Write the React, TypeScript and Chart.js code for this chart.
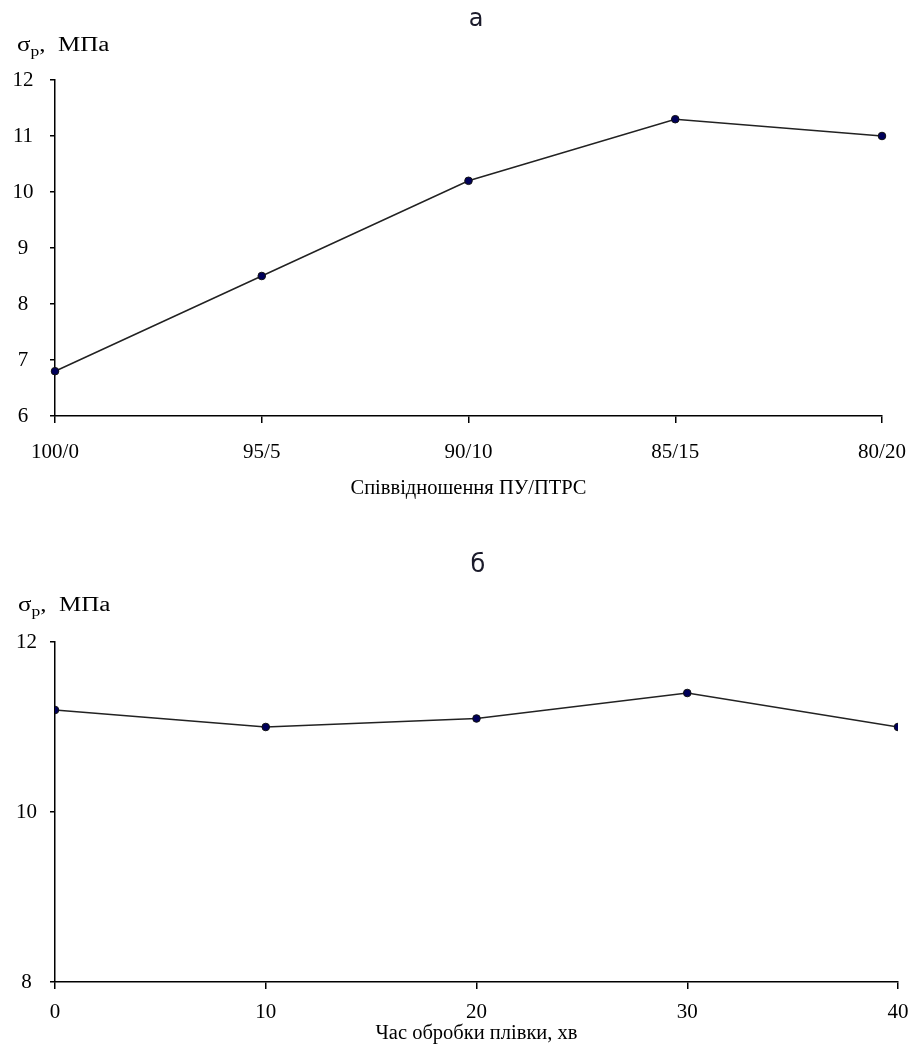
import React, { useEffect, useRef } from "react";
import { Chart, registerables } from "chart.js";

Chart.register(...registerables);

const ratioLabels = ["100/0", "95/5", "90/10", "85/15", "80/20"];
const ratioValues = [6.8, 8.5, 10.2, 11.3, 11.0];

const timeValuesX = [0, 10, 20, 30, 40];
const timeValues = [11.2, 11.0, 11.1, 11.4, 11.0];

const topTitle = "а";
const bottomTitle = "б";
const topXTitle = "Співвідношення ПУ/ПТРС";
const bottomXTitle = "Час обробки плівки, хв";

const SERIF = "'Liberation Serif', 'Times New Roman', serif";
const tickFont = { family: SERIF, size: 21 };
const titleFont = { family: SERIF, size: 20.5 };

function axisCommon(tickLength: number) {
  return {
    grid: {
      display: true,
      drawOnChartArea: false,
      drawTicks: true,
      tickLength,
      color: "#000",
      lineWidth: 1.5,
    },
    border: { display: true, color: "#000", width: 1.5 },
  };
}

const datasetStyle = {
  borderColor: "#222",
  borderWidth: 1.5,
  pointRadius: 3.8,
  pointHoverRadius: 3.8,
  pointBackgroundColor: "#00005a",
  pointBorderColor: "#111",
  pointBorderWidth: 1,
  tension: 0,
  fill: false,
};

function fixX(height: number) {
  return (s: any) => {
    s.height = height;
    s.paddingLeft = 0;
    s.paddingRight = 0;
  };
}

export default function App() {
  const topRef = useRef<HTMLCanvasElement | null>(null);
  const botRef = useRef<HTMLCanvasElement | null>(null);

  useEffect(() => {
    const c1 = new Chart(topRef.current!, {
      type: "line",
      data: {
        labels: ratioLabels,
        datasets: [{ data: ratioValues, ...datasetStyle }],
      },
      options: {
        animation: false,
        responsive: false,
        maintainAspectRatio: false,
        layout: { padding: { top: 80, right: 29, left: 0, bottom: 0 } },
        plugins: { legend: { display: false }, tooltip: { enabled: false }, title: { display: false } },
        scales: {
          x: {
            type: "category",
            offset: false,
            ...axisCommon(7),
            ticks: { font: tickFont, color: "#000", padding: 17, maxRotation: 0, autoSkip: false },
            title: { display: true, text: topXTitle, font: titleFont, color: "#000", padding: 0 },
            afterFit: fixX(85),
          },
          y: {
            type: "linear",
            min: 6,
            max: 12,
            ...axisCommon(5),
            ticks: { stepSize: 1, font: tickFont, color: "#000", padding: 16.5, crossAlign: "center" },
            afterFit: (s: any) => {
              s.width = 55;
            },
          },
        },
      } as any,
    });

    const c2 = new Chart(botRef.current!, {
      type: "line",
      data: {
        datasets: [
          {
            data: timeValuesX.map((x, i) => ({ x, y: timeValues[i] })),
            ...datasetStyle,
          },
        ],
      },
      options: {
        animation: false,
        responsive: false,
        maintainAspectRatio: false,
        layout: { padding: { top: 102, right: 13, left: 0, bottom: 1 } },
        plugins: { legend: { display: false }, tooltip: { enabled: false }, title: { display: false } },
        scales: {
          x: {
            type: "linear",
            min: 0,
            max: 40,
            ...axisCommon(7),
            ticks: { stepSize: 10, font: tickFont, color: "#000", padding: 11, maxRotation: 0 },
            title: { display: true, text: bottomXTitle, font: titleFont, color: "#000", padding: 0 },
            afterFit: fixX(64),
          },
          y: {
            type: "linear",
            min: 8,
            max: 12,
            ...axisCommon(5),
            ticks: { stepSize: 2, font: tickFont, color: "#000", padding: 13, crossAlign: "center" },
            afterFit: (s: any) => {
              s.width = 55;
            },
          },
        },
      } as any,
    });

    return () => {
      c1.destroy();
      c2.destroy();
    };
  }, []);

  const yLabelStyle: React.CSSProperties = {
    position: "absolute",
    fontFamily: SERIF,
    fontSize: 20,
    color: "#000",
    lineHeight: "24px",
    whiteSpace: "nowrap",
    transform: "scaleX(1.25)",
    transformOrigin: "left center",
  };
  const titleStyle: React.CSSProperties = {
    position: "absolute",
    fontFamily: "'DejaVu Sans', sans-serif",
    fontSize: 24,
    color: "#1a1a2a",
    lineHeight: "28px",
    transform: "translateX(-50%)",
  };

  return (
    <div style={{ position: "absolute", left: 0, top: 0, width: 911, height: 1047, background: "#fff" }}>
      <canvas ref={topRef} width={911} height={501} style={{ position: "absolute", left: 0, top: 0, width: 911, height: 501 }} />
      <canvas ref={botRef} width={911} height={507} style={{ position: "absolute", left: 0, top: 540, width: 911, height: 507 }} />
      <div style={{ ...titleStyle, left: 476, top: 4 }}>{topTitle}</div>
      <div style={{ ...titleStyle, left: 478, top: 550 }}>{bottomTitle}</div>
      <div style={{ ...yLabelStyle, left: 17, top: 32 }}>
        σ<sub style={{ fontSize: 14 }}>р</sub>, &nbsp;МПа
      </div>
      <div style={{ ...yLabelStyle, left: 18, top: 592 }}>
        σ<sub style={{ fontSize: 14 }}>р</sub>, &nbsp;МПа
      </div>
    </div>
  );
}
